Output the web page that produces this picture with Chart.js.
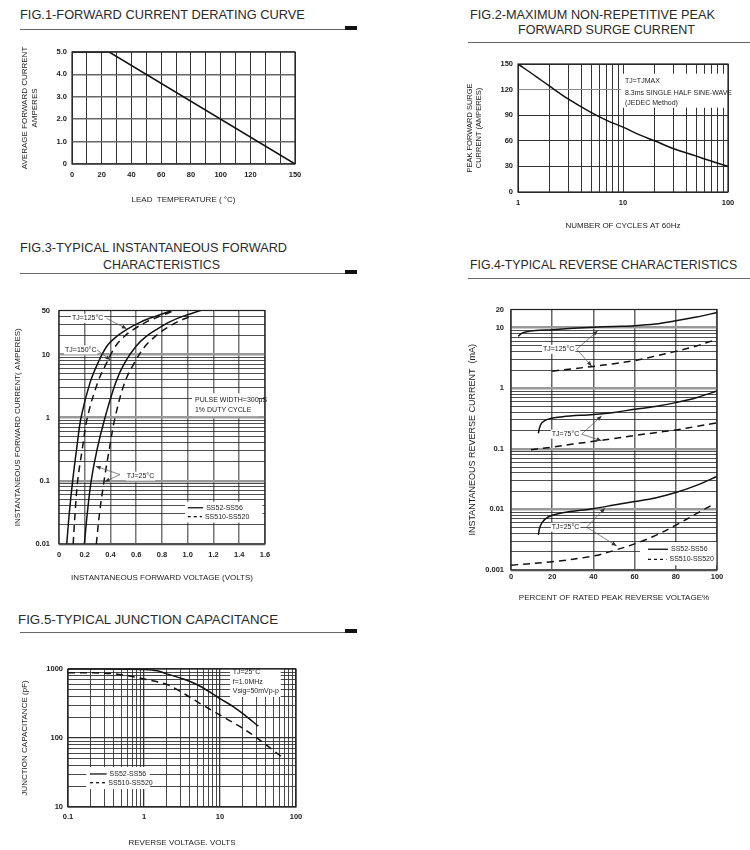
<!DOCTYPE html>
<html>
<head>
<meta charset="utf-8">
<script src="https://cdn.jsdelivr.net/npm/chart.js@4.4.1/dist/chart.umd.min.js"></script>
<style>
  body { margin: 0; background: #fff; width: 750px; height: 850px; overflow: hidden; position: relative;
         font-family: 'Liberation Sans', Arial, sans-serif; }
  .title { position: absolute; font-size: 13px; color: #2a2a2a; white-space: nowrap; line-height: 16px; transform-origin: 0 50%; }
  .rule { position: absolute; height: 0; border-top: 1px solid #666; }
  .tab { position: absolute; width: 12px; height: 4px; background: #111; }
  .chart { position: absolute; }
</style>
</head>
<body>
<div class="title" data-w="285" style="left:20px;top:7px">FIG.1-FORWARD CURRENT DERATING CURVE</div>
<div class="rule" style="left:20px;top:29px;width:337px"></div>
<div class="tab" style="left:345px;top:26px"></div>

<div class="title" data-w="245" style="left:470px;top:7px">FIG.2-MAXIMUM NON-REPETITIVE PEAK</div>
<div class="title" data-w="177" style="left:518px;top:22px">FORWARD SURGE CURRENT</div>
<div class="rule" style="left:468px;top:42px;width:282px"></div>

<div class="title" data-w="267" style="left:20px;top:240px">FIG.3-TYPICAL INSTANTANEOUS FORWARD</div>
<div class="title" data-w="117" style="left:103px;top:257px">CHARACTERISTICS</div>
<div class="rule" style="left:20px;top:273px;width:337px"></div>
<div class="tab" style="left:345px;top:270px"></div>

<div class="title" data-w="267" style="left:470px;top:257px">FIG.4-TYPICAL REVERSE CHARACTERISTICS</div>
<div class="rule" style="left:468px;top:278px;width:282px"></div>

<div class="title" data-w="260" style="left:18px;top:612px">FIG.5-TYPICAL JUNCTION CAPACITANCE</div>
<div class="rule" style="left:20px;top:632px;width:337px"></div>
<div class="tab" style="left:345px;top:629px"></div>

<div class="chart" id="fig1"><canvas></canvas></div>
<div class="chart" id="fig2"><canvas></canvas></div>
<div class="chart" id="fig3"><canvas></canvas></div>
<div class="chart" id="fig4"><canvas></canvas></div>
<div class="chart" id="fig5"><canvas></canvas></div>

<script>
// ---- FIG.1 derating ----
const fig1Temp = [0, 25, 150];
const fig1Amps = [5, 5, 0];
const fig1TempTicks = [0, 20, 40, 60, 80, 100, 120, 150];
const fig1AmpTicks = [0, 1, 2, 3, 4, 5];

// ---- FIG.2 surge current ----
const fig2Cycles = [1, 1.5, 2, 3, 5, 7, 10, 15, 20, 30, 50, 70, 100];
const fig2Amps = [150, 135, 124, 109, 93, 84, 76, 66, 60, 51, 42, 36, 30];
const fig2CycleTicks = [1, 10, 100];
const fig2AmpTicks = [0, 30, 60, 90, 120, 150];

// ---- FIG.3 forward characteristics ----
const fig3HotSolidV = [0.06, 0.08, 0.106, 0.136, 0.171, 0.241, 0.303, 0.373, 0.45, 0.528, 0.637, 0.746, 0.878];
const fig3HotSolidI = [0.01, 0.031, 0.1, 0.31, 1, 3.6, 7.4, 13.7, 19.6, 25.2, 33, 40.3, 50];
const fig3HotDashV = [0.11, 0.125, 0.145, 0.18, 0.22, 0.30, 0.37, 0.44, 0.51, 0.58, 0.68, 0.78, 0.90];
const fig3HotDashI = [0.01, 0.031, 0.1, 0.31, 1, 3.6, 7.4, 13.7, 19.6, 25.2, 33, 40.3, 50];
const fig3ColdSolidV = [0.197, 0.22, 0.25, 0.295, 0.357, 0.44, 0.51, 0.60, 0.68, 0.76, 0.86, 0.96, 1.1];
const fig3ColdSolidI = [0.01, 0.031, 0.1, 0.31, 1, 3.6, 7.4, 13.7, 19.6, 25.2, 33, 40.3, 50];
const fig3ColdDashV = [0.29, 0.315, 0.35, 0.39, 0.435, 0.51, 0.585, 0.67, 0.75, 0.82, 0.92, 1.02];
const fig3ColdDashI = [0.01, 0.031, 0.1, 0.31, 1, 3.6, 7.4, 13.7, 19.6, 25.2, 33, 40.3];
const fig3VoltTicks = [0, 0.2, 0.4, 0.6, 0.8, 1.0, 1.2, 1.4, 1.6];
const fig3AmpTicks = [0.01, 0.1, 1, 10, 50];

// ---- FIG.4 reverse characteristics ----
const fig4S125Pct = [3.6, 5, 7, 12, 20, 30, 40, 50, 60, 70, 80, 90, 100];
const fig4S125mA = [7.2, 8, 8.5, 9, 9.3, 9.8, 10.2, 10.5, 10.8, 11.5, 13, 15, 17.8];
const fig4D125Pct = [20, 30, 40, 50, 60, 70, 80, 90, 99];
const fig4D125mA = [1.92, 2.1, 2.3, 2.55, 2.87, 3.4, 4.07, 5, 6.3];
const fig4S75Pct = [13.3, 13.8, 15, 18, 25, 40, 50, 60, 70, 80, 90, 100];
const fig4S75mA = [0.18, 0.22, 0.27, 0.31, 0.34, 0.37, 0.4, 0.45, 0.5, 0.58, 0.7, 0.9];
const fig4D75Pct = [9.7, 20, 30, 40, 50, 60, 70, 80, 90, 100];
const fig4D75mA = [0.097, 0.107, 0.12, 0.133, 0.148, 0.166, 0.185, 0.205, 0.235, 0.27];
const fig4S25Pct = [13.3, 13.8, 15, 18, 25, 40, 50, 60, 70, 80, 90, 100];
const fig4S25mA = [0.0038, 0.0048, 0.006, 0.0075, 0.0088, 0.0103, 0.0118, 0.0135, 0.0155, 0.019, 0.025, 0.035];
const fig4D25Pct = [0, 20, 40, 50, 60, 70, 80, 90, 98];
const fig4D25mA = [0.0012, 0.00137, 0.0017, 0.0021, 0.0027, 0.0037, 0.0055, 0.0085, 0.012];
const fig4PctTicks = [0, 20, 40, 60, 80, 100];
const fig4mATicks = [0.001, 0.01, 0.1, 1, 10, 20];

// ---- FIG.5 junction capacitance ----
const fig5SolidV = [0.1, 0.3, 0.6, 1, 1.5, 2, 3.3, 5.4, 10, 14.9, 20, 32];
const fig5SolidPf = [1000, 1000, 995, 985, 940, 850, 716, 567, 372, 285, 225, 148];
const fig5DashV = [0.1, 0.3, 0.53, 1, 2.08, 3.6, 5.4, 10, 23.5, 64];
const fig5DashPf = [884, 870, 819, 716, 586, 420, 318, 215, 123, 54];
const fig5VoltTicks = [0.1, 1, 10, 100];
const fig5PfTicks = [10, 100, 1000];

const FONT = "'Liberation Sans', Arial, sans-serif";
const TITLE_SIZE = 8;

function near(list, v) { return list.some(t => Math.abs(t - v) <= Math.abs(t) * 1e-6 + 1e-9); }
function isDecade(v) { const l = Math.log10(v); return Math.abs(l - Math.round(l)) < 1e-6; }
function stepGrid(min, max, step) {
  const out = [];
  for (let v = min; v <= max + 1e-9; v += step) out.push(+v.toFixed(6));
  return out;
}
function logGrid(min, max) {
  const out = [];
  for (let e = Math.floor(Math.log10(min)); e <= Math.ceil(Math.log10(max)); e++) {
    for (let d = 1; d < 10; d++) {
      const v = +(d * Math.pow(10, e)).toPrecision(6);
      if (v >= min * 0.999999 && v <= max * 1.000001) out.push(v);
    }
  }
  if (!near(out, max)) out.push(max);
  return out;
}
function pts(xs, ys) { return xs.map((x, i) => ({x, y: ys[i]})); }
// mode: 'straight' | 'monotone' | 'smooth'
function curve(xs, ys, dashed, mode) {
  return { data: pts(xs, ys), borderColor: '#111', borderWidth: 1.5, borderDash: dashed ? [7, 5] : [],
           pointRadius: 0, fill: false,
           cubicInterpolationMode: mode === 'monotone' ? 'monotone' : 'default',
           tension: mode === 'smooth' ? 0.35 : 0 };
}

function axis(o) {
  return {
    type: o.type, min: o.min, max: o.max,
    afterBuildTicks: s => { s.ticks = o.grid.map(v => ({value: v})); },
    ticks: { autoSkip: false, maxRotation: 0, padding: o.pad, color: '#222',
             font: {family: FONT, size: 7.5, weight: 'bold'},
             callback: v => near(o.labels, v) ? o.fmt(v) : '' },
    grid: { drawTicks: false,
            color: c => o.color(c.tick ? c.tick.value : 0),
            lineWidth: c => o.width(c.tick ? c.tick.value : 0) },
    border: { display: false },
    title: { display: true, text: o.title, color: '#222', font: {family: FONT, size: o.titleSize || TITLE_SIZE} }
  };
}
const fixed1 = v => v === 0 ? '0' : v.toFixed(1);
const plain = v => String(+v.toPrecision(3));

function drawArrow(ctx, x1, y1, x2, y2) {
  ctx.beginPath(); ctx.moveTo(x1, y1); ctx.lineTo(x2, y2); ctx.stroke();
  const a = Math.atan2(y2 - y1, x2 - x1), L = 5, W = 2;
  ctx.beginPath(); ctx.moveTo(x2, y2);
  ctx.lineTo(x2 - L * Math.cos(a) + W * Math.sin(a), y2 - L * Math.sin(a) - W * Math.cos(a));
  ctx.lineTo(x2 - L * Math.cos(a) - W * Math.sin(a), y2 - L * Math.sin(a) + W * Math.cos(a));
  ctx.closePath(); ctx.fill();
}

// notes are placed in data units of each chart
function notesPlugin(n) {
  return {
    id: 'notes',
    beforeDatasetsDraw(chart) {
      const {ctx, scales: {x, y}} = chart;
      ctx.save(); ctx.fillStyle = '#fff';
      (n.boxes || []).forEach(b => {
        const x1 = x.getPixelForValue(b[0]), x2 = x.getPixelForValue(b[1]);
        const y1 = y.getPixelForValue(b[2]), y2 = y.getPixelForValue(b[3]);
        ctx.fillRect(Math.min(x1, x2), Math.min(y1, y2), Math.abs(x2 - x1), Math.abs(y2 - y1));
      });
      ctx.restore();
    },
    afterDatasetsDraw(chart) {
      const {ctx, chartArea: a, scales: {x, y}} = chart;
      ctx.save();
      ctx.strokeStyle = '#222'; ctx.lineWidth = 1.2;
      ctx.strokeRect(a.left, a.top, a.right - a.left, a.bottom - a.top);
      ctx.font = '7px ' + FONT; ctx.textBaseline = 'middle';
      (n.texts || []).forEach(t => {
        const px = x.getPixelForValue(t[1]), py = y.getPixelForValue(t[2]);
        const w = ctx.measureText(t[0]).width;
        if (t[3]) { ctx.fillStyle = '#fff'; ctx.fillRect(px - 1, py - 4.5, w + 2, 9); }
        ctx.fillStyle = '#222'; ctx.fillText(t[0], px, py);
      });
      ctx.strokeStyle = '#555'; ctx.fillStyle = '#333'; ctx.lineWidth = 0.7;
      (n.arrows || []).forEach(r => drawArrow(ctx, x.getPixelForValue(r[0]), y.getPixelForValue(r[1]),
                                                   x.getPixelForValue(r[2]), y.getPixelForValue(r[3])));
      (n.legend || []).forEach(l => {
        const x1 = x.getPixelForValue(l.x1), x2 = x.getPixelForValue(l.x2), py = y.getPixelForValue(l.y);
        ctx.strokeStyle = '#111'; ctx.lineWidth = 1.3; ctx.setLineDash(l.dashed ? [3, 3] : []);
        ctx.beginPath(); ctx.moveTo(x1, py); ctx.lineTo(x2, py); ctx.stroke();
        ctx.setLineDash([]); ctx.fillStyle = '#222';
        ctx.fillText(l.text, x2 + 3, py);
      });
      ctx.restore();
    }
  };
}

function build(id, box, yTitleX, xTitleY, xs, ys, datasets, notes) {
  const wrap = document.getElementById(id);
  const yLh = ys.title.font.size * 1.2, xLh = xs.title.font.size * 1.2;
  const left = Math.floor(yTitleX - yLh / 2 - 1);
  const top = box.T - 10;
  const width = box.R + 14 - left;
  const height = Math.ceil(xTitleY + xLh / 2 + 1 - top);
  Object.assign(wrap.style, {left: left + 'px', top: top + 'px', width: width + 'px', height: height + 'px'});
  const yw = box.L - left, xh = top + height - box.B;
  xs.title.padding = {top: 0, bottom: top + height - xTitleY - xLh / 2};
  ys.title.padding = {top: yTitleX - yLh / 2 - left, bottom: 0};
  xs.afterFit = s => { s.height = xh; };
  ys.afterFit = s => { s.width = yw; };
  new Chart(wrap.querySelector('canvas'), {
    type: 'line',
    data: { datasets },
    options: {
      responsive: true, maintainAspectRatio: false, animation: false,
      layout: { padding: {top: 10, right: 14, left: 0, bottom: 0} },
      plugins: { legend: {display: false}, tooltip: {enabled: false} },
      scales: { x: xs, y: ys }
    },
    plugins: [notesPlugin(notes || {})]
  });
}

const dark = () => '#333';
const logColor = v => isDecade(v) ? '#999' : '#222';
const logWidth = v => isDecade(v) ? 2.5 : 0.8;

// FIG.1
build('fig1', {L: 72, T: 52, R: 295, B: 164}, 25, 200,
  axis({type: 'linear', min: 0, max: 150, grid: stepGrid(0, 150, 10), labels: fig1TempTicks, fmt: v => String(v),
        pad: 6, title: 'LEAD  TEMPERATURE ( °C)', color: dark, width: () => 1}),
  axis({type: 'linear', min: 0, max: 5, grid: stepGrid(0, 5, 1), labels: fig1AmpTicks, fmt: fixed1,
        pad: 5, title: ['AVERAGE FORWARD CURRENT', 'AMPERES'], color: () => '#666', width: () => 1.5}),
  [curve(fig1Temp, fig1Amps, false, 'straight')]);

// FIG.2
build('fig2', {L: 518, T: 64, R: 728, B: 192}, 470, 226,
  axis({type: 'logarithmic', min: 1, max: 100, grid: logGrid(1, 100), labels: fig2CycleTicks, fmt: plain,
        pad: 6, title: 'NUMBER OF CYCLES AT 60Hz', color: dark, width: () => 1}),
  axis({type: 'linear', min: 0, max: 150, grid: stepGrid(0, 150, 30), labels: fig2AmpTicks, fmt: v => String(v),
        pad: 5, title: ['PEAK FORWARD SURGE', 'CURRENT (AMPERES)'], titleSize: 7.5,
        color: v => v === 120 ? '#888' : '#333', width: () => 1}),
  [curve(fig2Cycles, fig2Amps, false, 'monotone')],
  { boxes: [[9.6, 100, 98.8, 138.6]],
    texts: [['TJ=TJMAX', 10.45, 130.4], ['8.3ms SINGLE HALF SINE-WAVE', 10.45, 116.4], ['(JEDEC Method)', 10.45, 104.6]] });

// FIG.3
build('fig3', {L: 59, T: 307, R: 265, B: 544}, 18, 578,
  axis({type: 'linear', min: 0, max: 1.6, grid: stepGrid(0, 1.6, 0.2), labels: fig3VoltTicks, fmt: fixed1,
        pad: 6, title: 'INSTANTANEOUS FORWARD VOLTAGE (VOLTS)', color: () => '#777', width: () => 1.5}),
  axis({type: 'logarithmic', min: 0.01, max: 50, grid: logGrid(0.01, 50), labels: fig3AmpTicks, fmt: plain,
        pad: 9, title: 'INSTANTANEOUS FORWARD CURRENT( AMPERES)', color: logColor, width: logWidth}),
  [curve(fig3HotSolidV, fig3HotSolidI, false, 'smooth'), curve(fig3HotDashV, fig3HotDashI, true, 'smooth'),
   curve(fig3ColdSolidV, fig3ColdSolidI, false, 'smooth'), curve(fig3ColdDashV, fig3ColdDashI, true, 'smooth')],
  { boxes: [[1.033, 1.546, 1.06, 2.44], [0.98, 1.58, 0.0219, 0.0466]],
    texts: [['TJ=125°C', 0.1, 37.5, true], ['TJ=150°C', 0.047, 11.9, true], ['TJ=25°C', 0.526, 0.119, true],
            ['PULSE WIDTH=300μS', 1.056, 1.89], ['1% DUTY CYCLE', 1.056, 1.32]],
    arrows: [[0.37, 37.5, 0.526, 25.6], [0.295, 11.9, 0.40, 8.2],
             [0.474, 0.126, 0.285, 0.17], [0.474, 0.126, 0.355, 0.097]],
    legend: [{x1: 1.0, x2: 1.12, y: 0.0375, text: 'SS52-SS56'}, {x1: 1.0, x2: 1.11, y: 0.0271, text: 'SS510-SS520', dashed: true}] });

// FIG.4
build('fig4', {L: 511, T: 308, R: 717, B: 570}, 473, 598,
  axis({type: 'linear', min: 0, max: 100, grid: stepGrid(0, 100, 20), labels: fig4PctTicks, fmt: v => String(v),
        pad: 2, title: 'PERCENT OF RATED PEAK REVERSE VOLTAGE%', color: () => '#666', width: () => 1.5}),
  axis({type: 'logarithmic', min: 0.001, max: 20, grid: logGrid(0.001, 20), labels: fig4mATicks, fmt: plain,
        pad: 7, title: 'INSTANTANEOUS REVERSE CURRENT  (mA)', titleSize: 9, color: logColor, width: logWidth}),
  [curve(fig4S125Pct, fig4S125mA, false, 'smooth'), curve(fig4D125Pct, fig4D125mA, true, 'smooth'),
   curve(fig4S75Pct, fig4S75mA, false, 'smooth'), curve(fig4D75Pct, fig4D75mA, true, 'smooth'),
   curve(fig4S25Pct, fig4S25mA, false, 'smooth'), curve(fig4D25Pct, fig4D25mA, true, 'smooth')],
  { boxes: [[62.6, 100, 0.0012, 0.0029]],
    texts: [['TJ=125°C', 15.5, 4.4, true], ['TJ=75°C', 19.8, 0.175, true], ['TJ=25°C', 19.8, 0.0051, true]],
    arrows: [[31.9, 4.4, 42.1, 8.9], [31.9, 4.4, 39.2, 2.32],
             [34.3, 0.175, 44, 0.35], [34.3, 0.175, 44, 0.136],
             [36.7, 0.0051, 45.6, 0.0105], [36.7, 0.0051, 51.3, 0.0025]],
    legend: [{x1: 66.5, x2: 76.2, y: 0.0022, text: 'SS52-SS56'}, {x1: 66.5, x2: 75.5, y: 0.0015, text: 'SS510-SS520', dashed: true}] });

// FIG.5
build('fig5', {L: 68, T: 669, R: 296, B: 807}, 25, 843,
  axis({type: 'logarithmic', min: 0.1, max: 100, grid: logGrid(0.1, 100), labels: fig5VoltTicks, fmt: plain,
        pad: 5, title: 'REVERSE VOLTAGE. VOLTS', color: dark, width: v => isDecade(v) ? 1.3 : 0.9}),
  axis({type: 'logarithmic', min: 10, max: 1000, grid: logGrid(10, 1000), labels: fig5PfTicks, fmt: plain,
        pad: 5, title: 'JUNCTION CAPACITANCE (pF)', color: dark, width: v => isDecade(v) ? 1.3 : 0.9}),
  [curve(fig5SolidV, fig5SolidPf, false, 'monotone'), curve(fig5DashV, fig5DashPf, true, 'monotone')],
  { boxes: [[13.5, 63, 393, 1000], [0.173, 1.195, 18.2, 38]],
    texts: [['TJ=25°C', 14.7, 905], ['f=1.0MHz', 14.7, 655], ['Vsig=50mVp-p', 14.7, 480]],
    legend: [{x1: 0.1945, x2: 0.322, y: 30.1, text: 'SS52-SS56'}, {x1: 0.1945, x2: 0.31, y: 22.5, text: 'SS510-SS520', dashed: true}] });

// fit heading widths to the reference
document.querySelectorAll('.title').forEach(el => {
  const w = +el.dataset.w, r = el.getBoundingClientRect().width;
  if (r > 0) el.style.transform = 'scaleX(' + (w / r).toFixed(3) + ')';
});
</script>
</body>
</html>
